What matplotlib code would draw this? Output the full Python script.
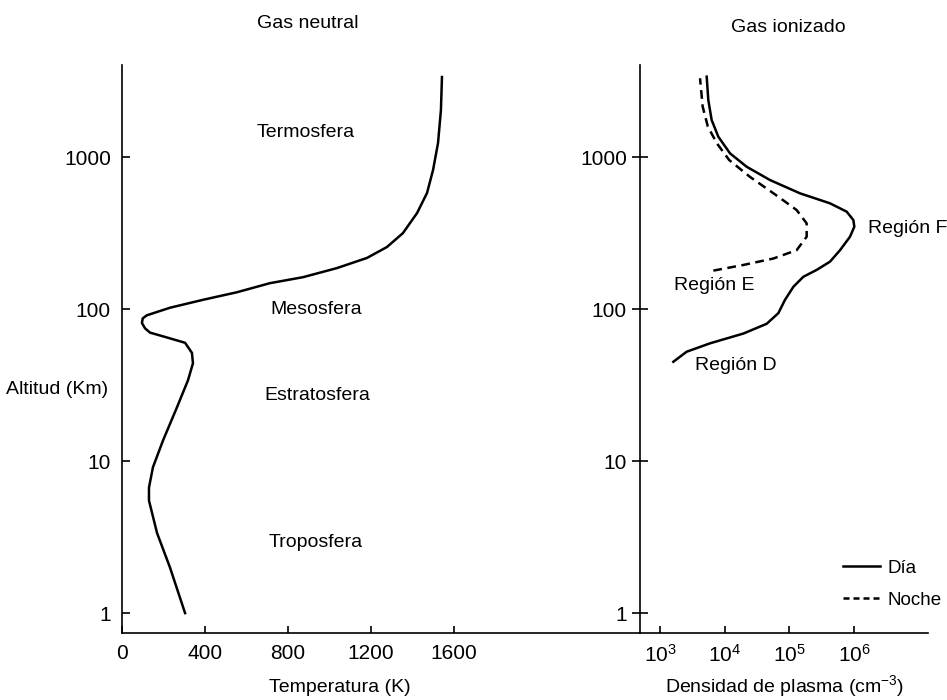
import matplotlib
matplotlib.use('Agg')
import matplotlib.pyplot as plt
from matplotlib.lines import Line2D

# ===== DATOS =====
# Perfil de temperatura del gas neutro
temp_K = [304, 231, 169, 130, 130, 149, 198, 265, 318, 342, 337, 304, 217,
          135, 111, 96, 100, 120, 231, 390, 554, 713, 872, 1036, 1181, 1277,
          1354, 1422, 1470, 1499, 1523, 1537, 1542]
alt_temp_km = [1.0, 2.0, 3.36, 5.5, 6.7, 9.1, 13.7, 22.6, 34, 44, 51.5, 60, 65,
               70, 74.7, 81, 86.9, 91, 102, 115, 129, 148, 162, 186, 217, 256,
               316, 428, 580, 821, 1236, 2037, 3360]

# Densidad de plasma (log10 cm^-3) - día
log_n_dia = [3.206, 3.412, 3.773, 4.289, 4.65, 4.83, 4.933, 5.062, 5.216,
             5.423, 5.629, 5.784, 5.938, 6.005, 5.99, 5.887, 5.629, 5.165,
             4.70, 4.34, 4.082, 3.902, 3.799, 3.747, 3.722]
alt_dia_km = [45, 52.4, 59.5, 69, 80, 94, 115, 140, 163,
              181, 205, 244, 299, 348, 385, 437, 496, 577,
              706, 863, 1058, 1360, 1750, 2371, 3377]

# Densidad de plasma (log10 cm^-3) - noche
log_n_noche = [3.825, 4.289, 4.753, 5.113, 5.268, 5.268, 5.113, 4.83,
               4.39, 4.07, 3.88, 3.74, 3.66, 3.619]
alt_noche_km = [179, 195, 215, 244, 299, 366, 448, 548,
                741, 955, 1230, 1585, 2143, 3296]

alt_ticks = [1, 10, 100, 1000]
temp_ticks = [0, 400, 800, 1200, 1600]
dens_ticks = [1e3, 1e4, 1e5, 1e6]
dens_ticklabels = ['$10^{3}$', '$10^{4}$', '$10^{5}$', '$10^{6}$']

capas = ['Termosfera', 'Mesosfera', 'Estratosfera', 'Troposfera']
capas_T = [887, 935, 940, 935]
capas_alt = [1460, 100, 27.2, 2.9]

regiones = ['Región F', 'Región E', 'Región D']
regiones_n = [10**6.83, 10**3.835, 10**4.175]
regiones_alt = [341, 142, 42.8]

# ===== ESTILO =====
plt.rcParams['font.family'] = ['Liberation Sans', 'DejaVu Sans']
plt.rcParams['mathtext.fontset'] = 'custom'
plt.rcParams['mathtext.rm'] = 'Liberation Sans'
plt.rcParams['mathtext.it'] = 'Liberation Sans:italic'
fs_txt = 14
fs_tick = 15
lw = 1.8

W, H = 947, 700
fig = plt.figure(figsize=(W / 100, H / 100), dpi=100)

x0, x_mid, x1 = 122, 640, 928
y_top, y_bot = 65, 633
ax1 = fig.add_axes([x0 / W, 1 - y_bot / H, (x_mid - x0) / W, (y_bot - y_top) / H])
ax2 = fig.add_axes([x_mid / W, 1 - y_bot / H, (x1 - x_mid) / W, (y_bot - y_top) / H])

for ax in (ax1, ax2):
    ax.set_yscale('log')
    ax.set_ylim(0.74, 4030)
    ax.spines['top'].set_visible(False)
    ax.spines['right'].set_visible(False)
    ax.spines['left'].set_linewidth(1.2)
    ax.spines['bottom'].set_linewidth(1.2)
    ax.set_yticks(alt_ticks)
    ax.set_yticklabels([str(v) for v in alt_ticks])
    ax.yaxis.set_minor_locator(matplotlib.ticker.NullLocator())
    ax.tick_params(axis='x', direction='in', length=5, width=1.2,
                   pad=8, labelsize=fs_tick)

# ----- Gas neutral -----
ax1.plot(temp_K, alt_temp_km, color='black', lw=lw,
         solid_joinstyle='round')
ax1.set_xlim(0, (x_mid - x0) / 83 * 400)
ax1.set_xticks(temp_ticks)
ax1.tick_params(axis='y', direction='in', length=6, width=1.2,
                pad=8, labelsize=fs_tick)
for nombre, t, a in zip(capas, capas_T, capas_alt):
    ax1.text(t, a, nombre, ha='center', va='center', fontsize=fs_txt)
ax1.set_xlabel('Temperatura (K)', fontsize=fs_txt, va='center')
ax1.xaxis.set_label_coords((340 - x0) / (x_mid - x0), (y_bot - 688) / (y_bot - y_top))

# ----- Gas ionizado -----
dens_dia = [10**v for v in log_n_dia]
dens_noche = [10**v for v in log_n_noche]
ax2.set_xscale('log')
ax2.set_xlim(10**(3 - 20 / 64.67), 10**(6 + 74 / 64.67))
ax2.plot(dens_dia, alt_dia_km, color='black', lw=lw,
         solid_joinstyle='round')
ax2.plot(dens_noche, alt_noche_km, color='black', lw=lw,
         linestyle=(0, (3.5, 2.2)))
ax2.set_xticks(dens_ticks)
ax2.set_xticklabels(dens_ticklabels)
ax2.xaxis.set_minor_locator(matplotlib.ticker.NullLocator())
ax2.tick_params(axis='y', direction='inout', length=11, width=1.2,
                pad=4, labelsize=fs_tick)
for nombre, n, a in zip(regiones, regiones_n, regiones_alt):
    ax2.text(n, a, nombre, ha='center', va='center', fontsize=fs_txt,
             clip_on=False)
ax2.set_xlabel('Densidad de plasma (cm$^{-3}$)', fontsize=fs_txt, va='center')
ax2.xaxis.set_label_coords((785 - x_mid) / (x1 - x_mid), (y_bot - 686) / (y_bot - y_top))

handles = [Line2D([], [], color='black', lw=lw),
           Line2D([], [], color='black', lw=lw, linestyle=(0, (2.4, 1.6)))]
leg = ax2.legend(handles, ['Día', 'Noche'], frameon=False,
                 fontsize=13.5, handlelength=2.0, handletextpad=0.4,
                 labelspacing=0.8, loc='upper left',
                 bbox_to_anchor=(835 / W, 1 - 552 / H),
                 bbox_transform=fig.transFigure, borderaxespad=0)

fig.text(308 / W, 1 - 24 / H, 'Gas neutral', ha='center', va='center',
         fontsize=fs_txt)
fig.text(788 / W, 1 - 27 / H, 'Gas ionizado', ha='center', va='center',
         fontsize=fs_txt)
fig.text(57 / W, 1 - 390 / H, 'Altitud (Km)', ha='center', va='center',
         fontsize=fs_txt)

fig.savefig('out.png', dpi=100)
